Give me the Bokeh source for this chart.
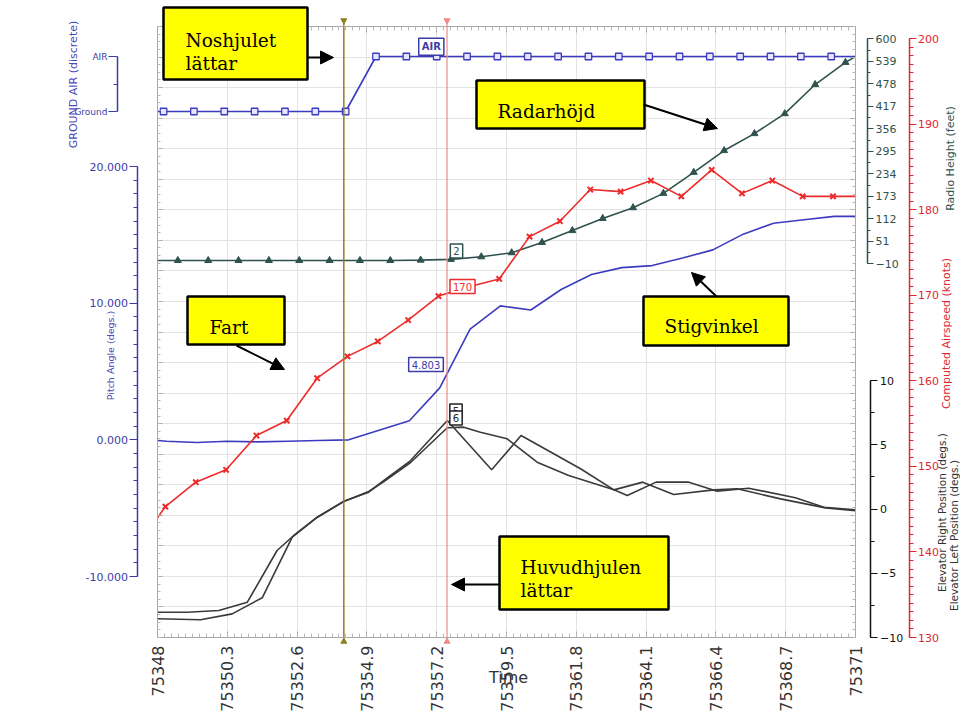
import math
from bokeh.plotting import figure
from bokeh.models import (Range1d, LinearAxis, FixedTicker, Grid, Label, BoxAnnotation,
                          Arrow, NormalHead, ColumnDataSource, CDSView, IndexFilter,
                          PrintfTickFormatter)
from bokeh.embed import file_html
from bokeh.resources import INLINE

# ---------------- data ----------------
x_ticks = [75348, 75350.3, 75352.6, 75354.9, 75357.2, 75359.5, 75361.8,
           75364.1, 75366.4, 75368.7, 75371]

gear_t = [75348.0, 75348.2, 75349.2, 75350.2, 75351.2, 75352.2, 75353.2, 75354.2,
          75355.2, 75356.2, 75357.2, 75358.2, 75359.2, 75360.2, 75361.2, 75362.2,
          75363.2, 75364.2, 75365.2, 75366.2, 75367.2, 75368.2, 75369.2, 75370.2, 75371.0]
gear_v = [0, 0, 0, 0, 0, 0, 0, 0,
          1, 1, 1, 1, 1, 1, 1, 1, 1, 1, 1, 1, 1, 1, 1, 1, 1]
gear_labels = {0: "Ground", 1: "AIR"}

pitch_t = [75348.0, 75348.3, 75349.3, 75350.3, 75351.3, 75352.3, 75353.3, 75354.3,
           75355.3, 75356.3, 75357.3, 75358.3, 75359.3, 75360.3, 75361.3, 75362.3,
           75363.3, 75364.3, 75365.3, 75366.3, 75367.3, 75368.3, 75369.3, 75370.3, 75371.0]
pitch_v = [-0.05, -0.1, -0.2, -0.1, -0.15, -0.1, -0.05, 0.0, 0.7, 1.4, 3.8, 8.1, 9.8,
           9.5, 11.0, 12.1, 12.6, 12.75, 13.3, 13.9, 15.05, 15.85, 16.1, 16.35, 16.35]
pitch_ticks = [-10, 0, 10, 20]

speed_t = [75348.0, 75348.26, 75349.26, 75350.26, 75351.26, 75352.26, 75353.26, 75354.26,
           75355.26, 75356.26, 75357.26, 75358.26, 75359.26, 75360.26, 75361.26, 75362.26,
           75363.26, 75364.26, 75365.26, 75366.26, 75367.26, 75368.26, 75369.26, 75370.26,
           75371.0]
speed_v = [144.0, 145.3, 148.15, 149.6, 153.6, 155.35, 160.3, 162.85, 164.6, 167.1, 169.9,
           171.0, 171.9, 176.85, 178.65, 182.35, 182.1, 183.4, 181.55, 184.65, 181.9, 183.4,
           181.55, 181.55, 181.55]
speed_ticks = [130, 140, 150, 160, 170, 180, 190, 200]

radar_t = [75348.0, 75348.67, 75349.67, 75350.67, 75351.67, 75352.67, 75353.67, 75354.67,
           75355.67, 75356.67, 75357.67, 75358.67, 75359.67, 75360.67, 75361.67, 75362.67,
           75363.67, 75364.67, 75365.67, 75366.67, 75367.67, 75368.67, 75369.67, 75370.67,
           75371.0]
radar_v = [-1, -1, -1, -1, -1, -1, -1, -1, -1, 0, 2, 9, 20, 48, 80, 113, 142, 181, 238,
           297, 343, 397, 476, 536, 552]
radar_ticks = [-10, 51, 112, 173, 234, 295, 356, 417, 478, 539, 600]

elev_r_t = [75348.0, 75348.98, 75350.02, 75350.96, 75351.94, 75352.49, 75353.26, 75354.14,
            75354.96, 75355.46, 75356.34, 75357.55, 75359.01, 75359.98, 75361.94, 75363.04,
            75363.48, 75364.43, 75365.51, 75366.44, 75367.48, 75369.02, 75369.96, 75371.0]
elev_r_v = [-8.03, -8.03, -7.9, -7.25, -3.23, -2.06, -0.64, 0.61, 1.31, 2.22, 3.77, 6.89,
            3.05, 5.72, 3.13, 1.49, 1.05, 2.09, 2.09, 1.39, 1.62, 0.87, 0.14, -0.06]
elev_l_t = [75348.0, 75349.42, 75350.46, 75351.45, 75352.44, 75353.26, 75354.14, 75354.96,
            75355.46, 75356.34, 75357.55, 75358.09, 75358.64, 75359.52, 75360.51, 75361.55,
            75363.04, 75363.99, 75365.01, 75366.33, 75367.10, 75368.53, 75370.01, 75371.0]
elev_l_v = [-8.54, -8.62, -8.16, -6.91, -2.19, -0.66, 0.58, 1.36, 2.14, 3.62, 6.32, 6.37,
            5.98, 5.46, 3.64, 2.61, 1.49, 2.09, 1.13, 1.49, 1.57, 0.79, 0.09, -0.14]
elev_ticks = [-10, -5, 0, 5, 10]

cursor_t = [75354.14, 75357.54]

# ---------------- layout helpers (page pixel coordinates) ----------------
W, H = 960, 716
PX_L, PX_R, PX_T, PX_B = 0, W, 0, H           # canvas edges in page pixels
FL, FR, FT, FB = 157, 855, 26, 637            # plot frame in page pixels

BLUE = "#3b3bc0"
AXBLUE = "#3c3ca8"
RED = "#ee2b2b"
SLATE = "#2f524e"
ELEV = "#3a3a3a"
OLIVE = "#8c8220"
CRED = "#f08a8a"
EDGE = "#a8a8a8"


def span(v_a, p_a, v_b, p_b, p_lo, p_hi):
    s = (v_b - v_a) / (p_b - p_a)
    return v_a + (p_lo - p_a) * s, v_a + (p_hi - p_a) * s


def yr(v_a, p_a, v_b, p_b):
    lo, hi = span(v_a, p_a, v_b, p_b, PX_B, PX_T)
    return Range1d(start=lo, end=hi)


t_lo, t_hi = span(x_ticks[0], FL, x_ticks[-1], FR, PX_L, PX_R)

p = figure(width=W, height=H, x_range=Range1d(t_lo, t_hi), y_range=Range1d(PX_B, PX_T),
           x_axis_type=None, y_axis_type=None, output_backend="svg",
           toolbar_location=None, min_border=0, outline_line_color=None,
           background_fill_color="white", border_fill_color="white")
p.extra_x_ranges = {"px": Range1d(PX_L, PX_R)}
p.extra_y_ranges = {
    "gear": yr(1, 56, 0, 111),
    "pitch": yr(20, 166, -10, 576),
    "radar": yr(600, 38.3, -10, 263.3),
    "speed": yr(200, 38, 130, 637),
    "elev": yr(10, 380, -10, 637),
}

# ---------------- grid ----------------
hg = [FT + (FB - FT) * k / 20 for k in range(21)]
hg_minor = [FT + (FB - FT) * k / 80 for k in range(81)]
x_minor = [round(x_ticks[0] + 0.23 * i, 3) for i in range(101)]

p.add_layout(Grid(dimension=0, ticker=FixedTicker(ticks=x_ticks[1:-1]),
                  cross_bounds=(FT, FB), grid_line_color="#e3e3e3"))
p.add_layout(Grid(dimension=1, x_range_name="px", ticker=FixedTicker(ticks=hg[1:-1]),
                  cross_bounds=(FL, FR), grid_line_color="#e3e3e3"))

# ---------------- frame edge axes ----------------
edge_style = dict(axis_line_color=EDGE, major_tick_line_color=EDGE,
                  minor_tick_line_color="#b8b8b8", major_tick_out=0, minor_tick_out=0)

bottom = LinearAxis(fixed_location=FB, bounds=(x_ticks[0], x_ticks[-1]),
                    ticker=FixedTicker(ticks=x_ticks, minor_ticks=x_minor),
                    major_tick_in=6, minor_tick_in=4,
                    major_label_orientation=math.pi / 2, major_label_standoff=8,
                    major_label_text_font="DejaVu Sans", major_label_text_font_size="16px",
                    major_label_text_color="#333333",
                    major_label_overrides={t: f"{t:g}" for t in x_ticks}, **edge_style)
p.add_layout(bottom, "below")

top = LinearAxis(fixed_location=FT, bounds=(x_ticks[0], x_ticks[-1]),
                 ticker=FixedTicker(ticks=x_ticks, minor_ticks=x_minor),
                 major_tick_in=6, minor_tick_in=4, major_label_text_color=None, **edge_style)
p.add_layout(top, "above")

for side, loc in (("left", FL), ("right", FR)):
    ax = LinearAxis(x_range_name="px", fixed_location=loc, bounds=(FT, FB),
                    ticker=FixedTicker(ticks=hg, minor_ticks=hg_minor),
                    major_tick_in=5, minor_tick_in=3, major_label_text_color=None, **edge_style)
    p.add_layout(ax, side)


# ---------------- data axes ----------------
def data_axis(side, rng, loc, color, ticks, minor, bounds, fmt=None, overrides=None,
              tick_out=7, minor_out=4, standoff=2, size="11px", lw=1.5):
    ax = LinearAxis(y_range_name=rng, x_range_name="px", fixed_location=loc, bounds=bounds,
                    ticker=FixedTicker(ticks=ticks, minor_ticks=minor),
                    axis_line_color=color, axis_line_width=lw,
                    major_tick_line_color=color, minor_tick_line_color=color,
                    major_tick_out=tick_out, major_tick_in=0,
                    minor_tick_out=minor_out, minor_tick_in=0,
                    major_label_standoff=standoff, major_label_text_color=color,
                    major_label_text_font="DejaVu Sans", major_label_text_font_size=size)
    if fmt is not None:
        ax.formatter = fmt
    if overrides is not None:
        ax.major_label_overrides = overrides
    p.add_layout(ax, side)


data_axis("left", "gear", 117, AXBLUE, [0, 1], [0.5], (0, 1), overrides=gear_labels,
          tick_out=9, minor_out=4, standoff=1, size="9px")
data_axis("left", "pitch", 136.5, AXBLUE, pitch_ticks, list(range(-10, 21)), (-10, 20),
          fmt=PrintfTickFormatter(format="%.3f"), tick_out=8, minor_out=4, standoff=1)
data_axis("right", "radar", 867, SLATE, radar_ticks, [-10 + 30.5 * i for i in range(21)],
          (-10, 600), tick_out=6, minor_out=3, standoff=2)
data_axis("right", "speed", 908.5, "#e3262e", speed_ticks, list(range(130, 201)), (130, 200),
          tick_out=7, minor_out=4, standoff=2)
data_axis("right", "elev", 869.5, "#111111", elev_ticks, [-10 + 2.5 * i for i in range(9)],
          (-10, 10), tick_out=7, minor_out=4, standoff=3)

# ---------------- series ----------------
def inner(n):
    return CDSView(filter=IndexFilter(list(range(1, n - 1))))


src = ColumnDataSource(dict(t=gear_t, v=gear_v))
p.line("t", "v", source=src, y_range_name="gear", line_color=BLUE, line_width=1.6)
p.scatter("t", "v", source=src, view=inner(len(gear_t)), y_range_name="gear", marker="square",
          size=6.5, line_color=BLUE, fill_color="#e6e6ff", line_width=1.3)

p.line(pitch_t, pitch_v, y_range_name="pitch", line_color=BLUE, line_width=1.6)

src = ColumnDataSource(dict(t=radar_t, v=radar_v))
p.line("t", "v", source=src, y_range_name="radar", line_color=SLATE, line_width=1.6)
p.scatter("t", "v", source=src, view=inner(len(radar_t)), y_range_name="radar",
          marker="triangle", size=7, line_color=SLATE, fill_color=SLATE)

src = ColumnDataSource(dict(t=speed_t, v=speed_v))
p.line("t", "v", source=src, y_range_name="speed", line_color=RED, line_width=1.6)
p.scatter("t", "v", source=src, view=inner(len(speed_t)), y_range_name="speed",
          marker="x", size=7.5, line_color=RED, line_width=2)

p.line(elev_r_t, elev_r_v, y_range_name="elev", line_color=ELEV, line_width=1.6)
p.line(elev_l_t, elev_l_v, y_range_name="elev", line_color=ELEV, line_width=1.6)

# cursors
cur_colors = [OLIVE, CRED]
p.segment(x0=cursor_t, x1=cursor_t, y0=[19, 19], y1=[642, 642], line_color=cur_colors,
          line_width=[1.5, 1.2])
p.scatter(x=cursor_t, y=[20, 20], marker="inverted_triangle", size=6, color=cur_colors)
p.scatter(x=cursor_t, y=[641, 641], marker="triangle", size=6, color=cur_colors)


# ---------------- readouts at cursor ----------------
def readout(x, y, text, color, bold=False):
    p.add_layout(Label(x=x, y=y, x_range_name="px", text=text, text_align="center",
                       text_baseline="middle", text_font="DejaVu Sans",
                       text_font_size="10px", text_font_style="bold" if bold else "normal",
                       text_color=color, background_fill_color="white",
                       border_line_color=color, border_line_width=1.5, padding=3))


readout(430.8, 46.3, "AIR", AXBLUE, bold=True)
readout(456, 250.5, "2", SLATE)
readout(462, 286, "170", RED)
readout(425.5, 364, "4.803", AXBLUE)
readout(455.5, 410.5, "5", "#222222")
readout(455.5, 417.5, "6", "#222222")


# ---------------- axis titles ----------------
def vtitle(x, y, text, color, size="11px"):
    p.add_layout(Label(x=x, y=y, x_range_name="px", text=text, angle=math.pi / 2,
                       text_align="center", text_baseline="middle", text_font="DejaVu Sans",
                       text_font_size=size, text_color=color))


vtitle(73, 84, "GROUND AIR (discrete)", "#4848b8")
vtitle(110, 355, "Pitch Angle (degs.)", "#4848b8", size="9.5px")
vtitle(950, 158, "Radio Height (feet)", SLATE)
vtitle(946, 333, "Computed Airspeed (knots)", "#e3262e")
vtitle(941, 512, "Elevator Right Position (degs.)", "#333333", size="10.5px")
vtitle(953, 535, "Elevator Left Position (degs.)", "#333333", size="10.5px")

p.add_layout(Label(x=508, y=677, x_range_name="px", text="Time", text_align="center",
                   text_baseline="middle", text_font="DejaVu Sans", text_font_size="16px",
                   text_color="#333333"))


# ---------------- callouts ----------------
def callout(l, r, t, b):
    p.add_layout(BoxAnnotation(left=l, right=r, top=t, bottom=b, x_range_name="px",
                               fill_color="#ffff00", fill_alpha=1.0, line_color="black",
                               line_alpha=1.0, line_width=2.5))


def note(x, y, text):
    p.add_layout(Label(x=x, y=y, x_range_name="px", text=text, text_font="DejaVu Serif",
                       text_font_size="18.5px", text_color="black",
                       text_baseline="alphabetic", text_align="left"))


def arrow(x0, y0, x1, y1):
    p.add_layout(Arrow(end=NormalHead(size=13, fill_color="black", line_color="black"),
                       x_start=x0, y_start=y0, x_end=x1, y_end=y1, x_range_name="px",
                       line_width=2, line_color="black"))


callout(163, 307, 7, 79)
note(185, 40, "Noshjulet")
note(185, 63, "lättar")
arrow(307, 57, 333, 57)

callout(476, 644, 80, 128)
note(497, 110.5, "Radarhöjd")
arrow(643, 104, 717, 128)

callout(187, 284, 296, 344)
note(209, 327, "Fart")
arrow(236, 345, 284, 369)

callout(643, 788, 296, 345)
note(664, 326, "Stigvinkel")
arrow(716, 296, 691, 272)

callout(499, 668, 536, 609)
note(520, 566.5, "Huvudhjulen")
note(520, 590, "lättar")
arrow(499, 584, 451, 584)

open("out.html", "w").write(file_html(p, INLINE))
